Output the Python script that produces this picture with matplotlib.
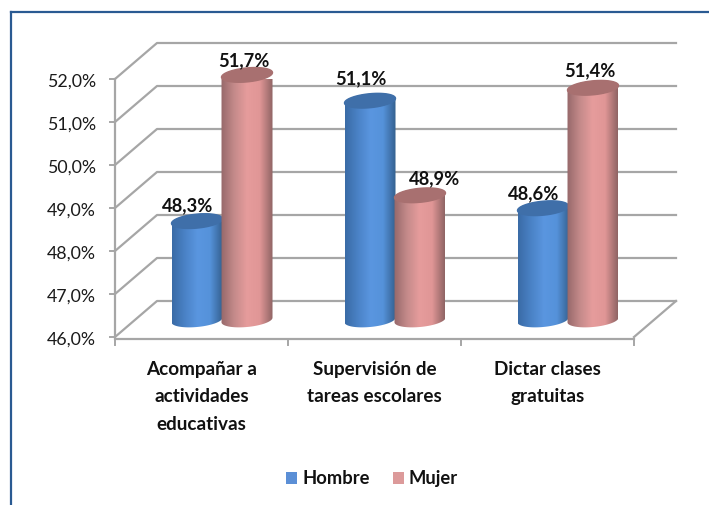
import numpy as np
import matplotlib
matplotlib.use('Agg')
import matplotlib.pyplot as plt
from matplotlib.patches import PathPatch, Rectangle
from matplotlib.path import Path
from matplotlib.colors import LinearSegmentedColormap

categories = ['Acompañar a\nactividades\neducativas', 'Supervisión de\ntareas escolares', 'Dictar clases\ngratuitas']
hombre = [48.3, 51.1, 48.6]
mujer = [51.7, 48.9, 51.4]
hombre_labels = ['48,3%', '51,1%', '48,6%']
mujer_labels = ['51,7%', '48,9%', '51,4%']
y_ticks = [46, 47, 48, 49, 50, 51, 52]
y_tick_labels = ['46,0%', '47,0%', '48,0%', '49,0%', '50,0%', '51,0%', '52,0%']

W, H = 709, 506
plt.rcParams['font.family'] = ['Lato', 'DejaVu Sans']
fig = plt.figure(figsize=(W / 100, H / 100), dpi=100)

# front plane of the fake 3d box, in pixels
left, right, top, bottom = 115, 634, 80, 338
ax = fig.add_axes([left / W, 1 - bottom / H, (right - left) / W, (bottom - top) / H])
ax.set_xlim(0, 3)
ax.set_ylim(46, 52)
ax.axis('off')
px_x = 3 / (right - left)
px_y = 6 / (bottom - top)

grid = '#a6a6a6'
depth_x, depth_y = 42 * px_x, 36 * px_y

# back wall, floor and side wall
for t in y_ticks:
    ax.plot([0, depth_x, 3 + depth_x], [t, t + depth_y, t + depth_y], color=grid, lw=1.6, clip_on=False, zorder=1)
ax.plot([3, 3 + depth_x], [46, 46 + depth_y], color=grid, lw=1.6, clip_on=False, zorder=1)
ax.plot([0, 0], [46, 52], color=grid, lw=1.6, clip_on=False, zorder=1)
ax.plot([0, 3], [46 - 2 * px_y, 46 - 2 * px_y], color=grid, lw=1.6, clip_on=False, zorder=1)

# tick marks
for t, lab in zip(y_ticks, y_tick_labels):
    ax.plot([-5 * px_x, 0], [t, t], color=grid, lw=1.4, clip_on=False, zorder=1)
    ax.text(-19 * px_x, t - 2 * px_y, lab, ha='right', va='center', fontsize=12.8, color='#1a1a1a')
for i in range(4):
    ax.plot([i, i], [46 - 2 * px_y, 46 - 8 * px_y], color=grid, lw=1.4, clip_on=False, zorder=1)
for i, lab in enumerate(categories):
    ax.text(i + 0.5, 46 - 23 * px_y, lab, ha='center', va='top', fontsize=13.6, fontweight='bold',
            color='#111111', linespacing=1.75)

blue_cmap = LinearSegmentedColormap.from_list('b', ['#3a6ba6', '#4a82c6', '#5a96e0', '#5592da', '#34608f'])
red_cmap = LinearSegmentedColormap.from_list('r', ['#96686a', '#c48a8a', '#e69c9c', '#e09696', '#8f6464'])
gradient = np.linspace(0, 1, 128).reshape(1, -1)


def ellipse_xy(xc, yc, a, b, tilt=0.09):
    th = np.linspace(0, 2 * np.pi, 100)
    ex = a * np.cos(th)
    ey = b * np.sin(th) + tilt * a * np.cos(th)
    return xc + ex * px_x, yc + ey * px_y


def cylinder(xc, value, cmap, top_color, z):
    a, b = 25.5, 7
    base = 46 + 17 * px_y
    top_y = value + 17 * px_y
    ex, ey = ellipse_xy(xc, base, a, b)
    tx, ty = ellipse_xy(xc, top_y, a, b)
    # body outline: lower half of base ellipse, upper half of top ellipse
    low = np.arange(50, 100)
    high = np.arange(0, 50)
    verts = list(zip(ex[low], ey[low])) + list(zip(tx[high], ty[high]))
    verts.append(verts[0])
    clip = PathPatch(Path(verts), transform=ax.transData, fc='none', ec='none')
    ax.add_patch(clip)
    im = ax.imshow(gradient, cmap=cmap, aspect='auto', zorder=z, clip_on=True,
                   extent=[xc - a * px_x, xc + a * px_x, 45.5, 52.5])
    im.set_clip_path(clip)
    ax.fill(tx, ty, color=top_color, zorder=z + 0.1, clip_on=False)


# label nudges in pixels, the labels do not sit at a fixed distance from the bars
h_dx, h_dy = [-9, -9, -9], [33, 40, 32]
m_dx, m_dy = [-3, 15, -3], [32, 35, 35]

for i in range(3):
    cylinder(i + 0.474, hombre[i], blue_cmap, '#3f6fa9', 3 + i)
    cylinder(i + 0.763, mujer[i], red_cmap, '#a87070', 3.5 + i)
    ax.text(i + 0.474 + h_dx[i] * px_x, hombre[i] + h_dy[i] * px_y, hombre_labels[i], ha='center', va='center',
            fontsize=13.2, fontweight='bold', color='#111111', zorder=10)
    ax.text(i + 0.763 + m_dx[i] * px_x, mujer[i] + m_dy[i] * px_y, mujer_labels[i], ha='center', va='center',
            fontsize=13.2, fontweight='bold', color='#111111', zorder=10)
ax.set_xlim(0, 3)
ax.set_ylim(46, 52)

# legend
fig.patches.append(Rectangle((286 / W, 1 - 485 / H), 11 / W, 12 / H, transform=fig.transFigure, fc='#5b8fd6', ec='none'))
fig.patches.append(Rectangle((393 / W, 1 - 485 / H), 11 / W, 12 / H, transform=fig.transFigure, fc='#dc9a9a', ec='none'))
fig.text(302 / W, 1 - 479 / H, 'Hombre', ha='left', va='center', fontsize=13.2, fontweight='bold', color='#111111')
fig.text(409 / W, 1 - 479 / H, 'Mujer', ha='left', va='center', fontsize=13.2, fontweight='bold', color='#111111')

# outer frame
fig.add_artist(plt.Line2D([11 / W, 11 / W], [0, 1 - 13 / H], color='#2a5a92', lw=1.6))
fig.add_artist(plt.Line2D([11 / W, 1], [1 - 13 / H, 1 - 13 / H], color='#2a5a92', lw=1.6))

fig.savefig('out.png', dpi=100)
